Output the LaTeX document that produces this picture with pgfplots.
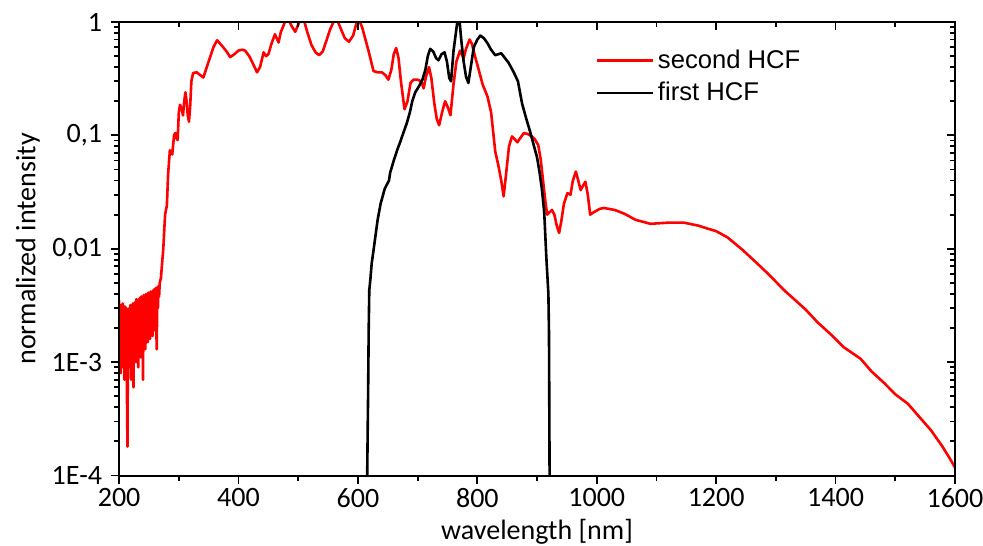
\documentclass[border=0pt]{standalone}
\usepackage{fontspec}
\setmainfont{Carlito}
\newfontfamily\arialfont{Liberation Sans}
\usepackage{pgfplots}
\pgfplotsset{compat=1.18}
\pgfplotstableread{
x y
200 0.0035
201 0.0012
202 0.0032
203 0.0008
204 0.0030
205 0.0009
206 0.0033
207 0.0011
208 0.0028
209 0.0007
210 0.0031
211 0.0010
212 0.0030
213 0.0006
214 0.00018
215 0.0029
216 0.0013
217 0.0030
218 0.0009
219 0.0032
220 0.0007
221 0.0031
222 0.0011
223 0.0033
224 0.0006
225 0.0032
226 0.0015
227 0.0034
228 0.0010
229 0.0036
230 0.0012
231 0.0035
232 0.0009
233 0.0036
234 0.0017
235 0.0037
236 0.0011
237 0.0038
238 0.0014
239 0.0036
240 0.0007
241 0.0039
242 0.0016
243 0.0038
244 0.0013
245 0.0040
246 0.0018
247 0.0039
248 0.0015
249 0.0041
250 0.0020
251 0.0040
252 0.0016
253 0.0042
254 0.0021
255 0.0041
256 0.0017
257 0.0043
258 0.0022
259 0.0044
260 0.0019
261 0.0045
262 0.0025
263 0.0013
264 0.0046
265 0.0030
266 0.0047
267 0.0038
268 0.0050
270 0.0055
272 0.0075
274 0.010
276 0.016
277 0.020
280 0.024
282 0.045
285 0.074
287 0.070
289 0.068
292 0.10
294 0.105
296 0.095
298 0.091
300 0.16
302 0.186
305 0.17
307 0.15
309 0.20
311 0.24
313 0.20
315 0.15
317 0.132
319 0.18
321 0.30
324 0.355
330 0.36
336 0.34
341 0.324
350 0.45
358 0.60
364 0.69
372 0.62
380 0.55
386 0.49
393 0.52
400 0.56
406 0.57
411 0.56
418 0.50
425 0.42
431 0.36
436 0.40
442 0.54
446 0.50
450 0.52
455 0.64
461 0.78
465 0.70
467 0.66
471 0.82
475 0.92
479 1.05
484 1.04
490 0.90
495 0.82
500 0.95
504 1.05
510 1.02
515 0.82
522 0.63
529 0.54
535 0.51
541 0.55
547 0.68
553 0.85
559 1.0
565 1.05
571 0.88
578 0.72
585 0.67
592 0.76
598 1.0
602 1.04
607 0.90
612 0.72
618 0.55
626 0.37
633 0.36
640 0.36
646 0.34
651 0.31
656 0.38
660 0.52
664 0.59
668 0.48
672 0.30
678 0.17
683 0.20
688 0.29
693 0.31
700 0.31
706 0.30
710 0.26
714 0.33
719 0.40
723 0.32
728 0.19
732 0.14
736 0.123
741 0.16
746 0.20
750 0.18
755 0.151
760 0.28
765 0.45
771 0.56
777 0.48
781 0.58
787 0.70
791 0.64
796 0.50
800 0.42
809 0.28
817 0.22
823 0.16
830 0.072
835 0.055
840 0.040
844 0.029
848 0.045
853 0.080
858 0.098
863 0.092
867 0.087
872 0.095
878 0.105
884 0.103
890 0.099
896 0.093
902 0.082
906 0.062
910 0.040
914 0.026
917 0.020
921 0.021
925 0.022
929 0.020
933 0.016
937 0.0138
941 0.018
945 0.025
951 0.031
956 0.030
960 0.040
965 0.048
969 0.040
973 0.033
977 0.036
981 0.039
985 0.030
989 0.020
995 0.021
1005 0.0225
1012 0.0229
1030 0.022
1046 0.0204
1065 0.018
1090 0.0166
1120 0.0170
1146 0.0170
1170 0.0160
1185 0.0151
1200 0.0143
1219 0.0126
1244 0.0098
1269 0.0074
1290 0.0058
1314 0.0043
1333 0.0035
1350 0.0029
1370 0.00224
1395 0.00170
1414 0.00135
1442 0.00107
1460 0.00083
1482 0.00065
1500 0.00052
1521 0.00043
1540 0.00033
1560 0.00025
1579 0.00018
1590 0.000145
1600 0.000118
}\secondhcf
\pgfplotstableread{
x y
614 0.00005
615.5 0.0001
616.5 0.0003
617 0.0005
618 0.0019
619 0.0043
621 0.0055
623 0.0074
626 0.0096
629 0.0126
633 0.018
638 0.025
645 0.034
652 0.040
654 0.047
660 0.060
666 0.075
671 0.088
676 0.105
682 0.129
687 0.16
691 0.20
696 0.24
702 0.27
708 0.31
713 0.38
717 0.50
721 0.58
726 0.55
731 0.48
735 0.46
740 0.52
745 0.54
749 0.45
753 0.32
756 0.30
760 0.55
764 0.80
767 1.05
770 1.05
773 0.70
777 0.45
781 0.33
785 0.29
789 0.40
794 0.60
800 0.70
805 0.76
811 0.72
817 0.65
823 0.57
830 0.51
835 0.52
840 0.53
845 0.49
852 0.44
861 0.36
868 0.30
875 0.19
882 0.14
889 0.105
895 0.080
900 0.064
904 0.048
908 0.034
912 0.021
915.5 0.0085
919 0.0040
920 0.0018
921 0.0001
921.5 0.00005
}\firsthcf
\pgfplotsset{
  common/.style={
    scale only axis, width=417.5pt, height=226.5pt,
    xmin=200, xmax=1600, ymin=1e-4, ymax=1,
    xtick={200,400,...,1600}, minor x tick num=1,
    ytick={1e-4,1e-3,1e-2,1e-1,1},
    axis line style={line width=1pt},
    major tick style={line width=0.9pt, black},
    minor tick style={line width=0.9pt, black},
    major tick length=4pt, minor tick length=2.5pt,
  }
}
\begin{document}
\begin{tikzpicture}
\begin{axis}[ymode=log, common,
    tick align=outside, xtick pos=bottom, ytick pos=left,
    xticklabels={200,400,600,800,1000,1200,1400,1600},
    yticklabels={1E-4,1E-3,{0,01},{0,1},1},
    tick label style={font=\fontsize{14}{16}\selectfont},
    xticklabel style={yshift=1pt},
    yticklabel style={xshift=-1pt},
    xlabel={wavelength [nm]}, ylabel={normalized intensity},
    label style={font=\fontsize{14}{16}\selectfont},
    xlabel style={yshift=1pt},
    ylabel style={yshift=-1pt},
    legend style={draw=none, fill=none, at={(0.562,0.958)}, anchor=north west,
      font=\arialfont\fontsize{12.8}{14}\selectfont, row sep=1.5pt},
    legend cell align=left,
    legend image code/.code={\draw[#1] (0pt,0pt) -- (28pt,0pt);},
  ]
\addplot[red, line width=1.3pt, line join=round] table[x=x,y=y] {\secondhcf};
\addlegendentry{second HCF}
\addplot[black, line width=1.3pt, line join=round] table[x=x,y=y] {\firsthcf};
\addlegendentry{first HCF}
\end{axis}
\begin{axis}[ymode=log, common,
    tick align=inside, xtick pos=top, ytick pos=right,
    xticklabels={}, yticklabels={},
  ]
\end{axis}
\pgfresetboundingbox
\path (current axis.south west) ++(-59.5pt,-35pt) coordinate (bl);
\path (current axis.north east) ++(14pt,11pt) coordinate (tr);
\path[use as bounding box] (bl) rectangle (tr);
\end{tikzpicture}
\end{document}
